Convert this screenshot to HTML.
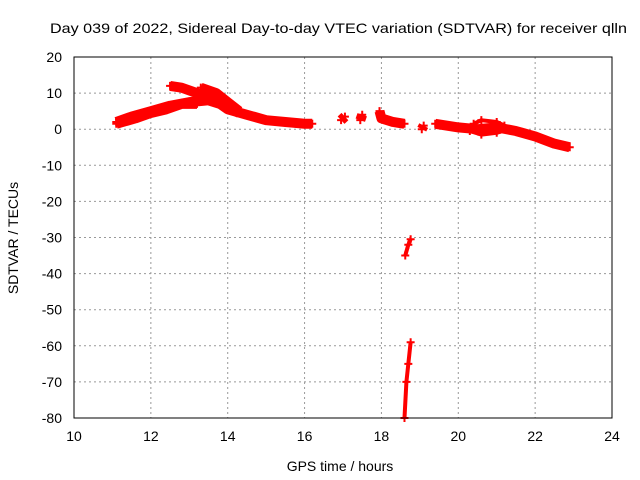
<!DOCTYPE html>
<html><head><meta charset="utf-8"><style>
body{margin:0;background:#fff}
svg{display:block;font-family:"Liberation Sans",sans-serif}
</style></head><body>
<svg id="chart" width="640" height="480">
<text x="50" y="33" font-size="14" textLength="577" lengthAdjust="spacingAndGlyphs">Day 039 of 2022, Sidereal Day-to-day VTEC variation (SDTVAR) for receiver qlln</text>
<text x="340" y="471" font-size="14" text-anchor="middle">GPS time / hours</text>
<text x="18" y="238" font-size="14" text-anchor="middle" transform="rotate(-90 18 238)">SDTVAR / TECUs</text>
<g id="grid"></g><g id="marks"></g>
<rect x="74" y="57" width="538" height="361" fill="none" stroke="#000"/>
</svg>
<script>
const xTicks=[10,12,14,16,18,20,22,24];
const yTicks=[20,10,0,-10,-20,-30,-40,-50,-60,-70,-80];
const seriesMain=[[11.1,2],[11.5,3.5],[12,5],[12.5,6.5],[13,7.5],[13.5,8],[13.8,7],[14,5.5],[14.5,4],[15,2.5],[15.5,2],[16,1.5],[16.2,1.5]];
const seriesLow=[[11.1,1.5],[11.6,3],[12,4.5],[12.4,5.5],[12.8,7],[13.2,7]];
const seriesUpper1=[[12.5,12],[12.8,11.5],[13.2,10],[13.6,8.5],[14,6],[14.3,4.5]];
const seriesUpper2=[[13.3,11.5],[13.7,10],[14,7.5],[14.3,5]];
const seriesG1=[[16.95,2.5],[17.05,3.5]];
const seriesG2=[[17.45,2.5],[17.5,4]];
const seriesG3=[[17.95,5],[18,3],[18.3,2],[18.6,1.5]];
const seriesG4=[[19.05,0],[19.1,1]];
const seriesEvening=[[19.4,1.5],[20,0.5],[20.5,0],[21,0.5],[21.5,-0.5],[22,-2],[22.5,-4],[22.9,-5]];
const seriesBump=[[20.4,1.5],[20.6,2.5],[21,2],[21.2,1]];
const seriesLoop=[[20.3,-0.5],[20.6,-1.5],[21,-1],[21.3,0]];
const seriesDrop1=[[18.62,-35],[18.7,-32],[18.76,-30.5]];
const seriesDrop2=[[18.6,-80],[18.65,-70],[18.7,-65],[18.76,-59]];
const thickSeries=[seriesMain,seriesLow,seriesUpper1,seriesUpper2,seriesG1,seriesG2,seriesG3,seriesG4,seriesEvening];
const thinSeries=[seriesBump,seriesLoop,seriesDrop1,seriesDrop2];
const X=v=>74+(v-10)*(538/14);
const Y=v=>57+(20-v)*(361/100);
const NS='http://www.w3.org/2000/svg';
const grid=document.getElementById('grid'),marks=document.getElementById('marks'),svg=document.getElementById('chart');
function mk(t,a,p){const e=document.createElementNS(NS,t);for(const k in a)e.setAttribute(k,a[k]);p.appendChild(e);return e;}
xTicks.forEach(t=>{const x=X(t);
 if(t>10&&t<24){const l=mk('line',{x1:x,x2:x,y1:57,y2:418,stroke:'#999','stroke-dasharray':'2,3'},grid);
 
 }
 const tx=mk('text',{x:x,y:441,'font-size':14,'text-anchor':'middle'},svg);tx.textContent=t;
 
 });
yTicks.forEach(t=>{const y=Y(t);
 if(t<20&&t>-80){const l=mk('line',{x1:74,x2:612,y1:y,y2:y,stroke:'#999','stroke-dasharray':'2,3'},grid);
 
 }
 const tx=mk('text',{x:62,y:y+5,'font-size':14,'text-anchor':'end'},svg);tx.textContent=t;
 
 });
function draw(s,w){
 const pl=mk('polyline',{points:s.map(p=>X(p[0])+','+Y(p[1])).join(' '),fill:'none',stroke:'#f00','stroke-width':w,'stroke-linejoin':'round'},marks);
 
 
 s.forEach(p=>{const x=X(p[0]),y=Y(p[1]);
  const m=mk('path',{d:`M${x-4},${y}h8M${x},${y-4}v8`,stroke:'#f00','stroke-width':2},marks);
  
  });
}
thickSeries.forEach(s=>draw(s,10));
thinSeries.forEach(s=>draw(s,4));
</script>
</body></html>
